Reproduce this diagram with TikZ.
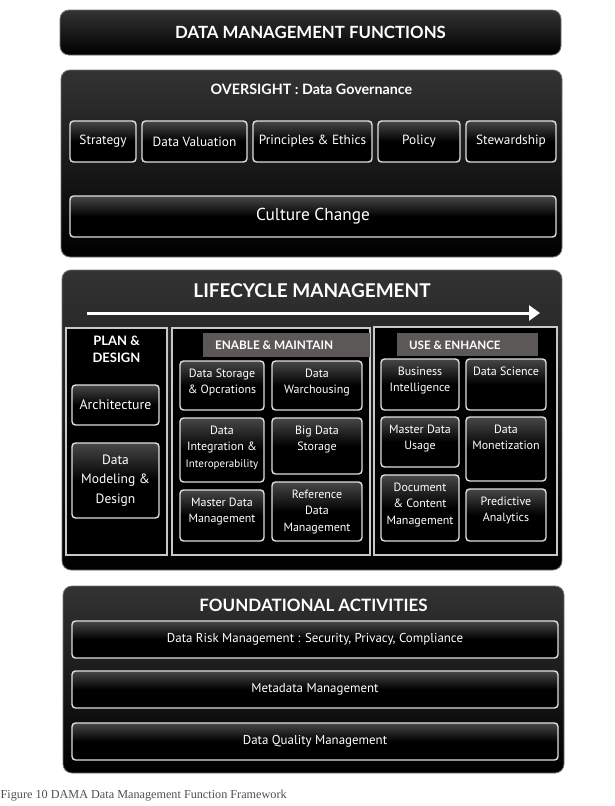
\documentclass[tikz,border=0pt]{standalone}
\usepackage{fontspec}
\setmainfont{PT Sans}
\newfontfamily\headfont{Lato}
\newfontfamily\capfont{Liberation Serif}
\usetikzlibrary{arrows.meta}
\definecolor{bandgrey}{RGB}{92,88,88}
\definecolor{edgegrey}{RGB}{200,200,200}
\definecolor{capgrey}{RGB}{80,80,80}

\tikzset{
  panel/.style={rounded corners=9pt, top color=black!80, bottom color=black,
    draw=black!55, line width=0.8pt},
  ib/.style={rounded corners=3.5pt, top color=black!72, bottom color=black,
    middle color=black, draw=white!88!black, line width=1.4pt, inner sep=0pt},
  col/.style={draw=edgegrey, line width=1.2pt, fill=black, inner sep=0pt},
  band/.style={fill=bandgrey, draw=none, inner sep=0pt},
  ttl/.style={text=white, font=\headfont\bfseries},
  lctext/.style={text=white, align=center, font=\fontsize{12}{16.5}\selectfont, inner sep=2pt},
  flow/.style={draw=white, line width=3pt, -{Triangle[length=11pt,width=15pt]}},
}

% box of the lifecycle grid: name, centre x, centre y, width, height, text
\newcommand\lcbox[6]{%
  \node[ib, minimum width=#4pt, minimum height=#5pt] (#1) at (#2,#3) {};
  \node[lctext, anchor=north] (#1-t) at ([yshift=-6pt]#1.north) {#6};
}

\begin{document}
\begin{tikzpicture}[x=1pt,y=-1pt]
\fill[white] (0,0) rectangle (615,806);
\useasboundingbox (0,0) rectangle (615,806);

% header
\node[panel, minimum width=501pt, minimum height=45pt] (head) at (310.5,32.5) {};
\node[ttl, font=\headfont\bfseries\fontsize{16.8}{18}\selectfont] (head-t) at (head.center) {DATA MANAGEMENT FUNCTIONS};

% oversight
\node[panel, minimum width=501pt, minimum height=187pt] (over) at (311.5,163.5) {};
\node[ttl, font=\headfont\bfseries\fontsize{14.3}{16}\selectfont] (over-t) at (311.5,89) {OVERSIGHT : Data Governance};
\begin{scope}[every node/.append style={text=white, font=\fontsize{13.3}{15}\selectfont}]
\node[ib, minimum width=66pt, minimum height=41pt] (strat) at (103,141.5) {Strategy};
\node[ib, minimum width=105pt, minimum height=41pt] (dval) at (194.5,141.5) {Data Valuation};
\node[ib, minimum width=119pt, minimum height=41pt] (princ) at (312.5,141.5) {Principles \& Ethics};
\node[ib, minimum width=82pt, minimum height=41pt] (pol) at (419,141.5) {Policy};
\node[ib, minimum width=90pt, minimum height=41pt] (stew) at (511,141.5) {Stewardship};
\node[ib, minimum width=486pt, minimum height=41pt, font=\fontsize{17.3}{19}\selectfont] (cult) at (313,216.5) {Culture Change};
\end{scope}

% lifecycle management
\node[panel, minimum width=500pt, minimum height=300pt] (life) at (312,420) {};
\node[ttl, font=\headfont\bfseries\fontsize{19}{22}\selectfont] (life-t) at (312,291) {LIFECYCLE MANAGEMENT};
\coordinate (arrS) at (87,313);
\coordinate (arrE) at (540,313);
\draw[flow] (arrS) -- (arrE);

% plan & design
\node[col, minimum width=101pt, minimum height=227pt] (plan) at (116.5,441.5) {};
\node[ttl, align=center, font=\headfont\bfseries\fontsize{13}{17}\selectfont] (plan-t) at (116.5,349.5) {PLAN \&\\DESIGN};
\node[ib, minimum width=87pt, minimum height=40pt, text=white, font=\fontsize{13.8}{15}\selectfont] (arch) at (115.5,405) {Architecture};
\node[ib, minimum width=87pt, minimum height=75pt, text=white, align=center, font=\fontsize{13.5}{19.5}\selectfont] (dmd) at (115.5,480.5) {Data\\Modeling \&\\Design};

% enable & maintain
\node[col, minimum width=198pt, minimum height=227pt] (enab) at (271,441.5) {};
\node[band, minimum width=167pt, minimum height=24pt] (enab-b) at (286.5,345) {};
\node[ttl, anchor=west, font=\headfont\bfseries\fontsize{11.8}{14}\selectfont] (enab-t) at (211.5,345.5) {ENABLE \& MAINTAIN};
\lcbox{dso}{222}{385.5}{84}{49}{Data Storage\\\& Opcrations}
\lcbox{dwh}{317}{385.5}{90}{49}{Data\\Warchousing}
\lcbox{dii}{222}{450}{84}{64}{Data\\Integration \&\\{\fontsize{11}{14}\selectfont Interoperability}}
\lcbox{bds}{317}{446}{90}{56}{Big Data\\Storage}
\lcbox{mdm}{222}{515.5}{84}{51}{Master Data\\Management}
\lcbox{rdm}{317}{511.5}{90}{59}{Reference\\Data\\Management}

% use & enhance
\node[col, minimum width=183pt, minimum height=228pt] (use) at (465.5,441) {};
\node[band, minimum width=141pt, minimum height=23pt] (use-b) at (467.5,344.5) {};
\node[ttl, anchor=west, font=\headfont\bfseries\fontsize{11.6}{14}\selectfont] (use-t) at (405.5,345) {USE \& ENHANCE};
\lcbox{bi}{420}{384.5}{78}{51}{Business\\Intelligence}
\lcbox{dsc}{506}{384.5}{80}{51}{Data Science}
\lcbox{mdu}{420}{442}{78}{50}{Master Data\\Usage}
\lcbox{dmo}{506}{449}{80}{64}{Data\\Monetization}
\lcbox{dcm}{420}{508}{78}{66}{Document\\\& Content\\Management}
\lcbox{pa}{506}{515}{80}{52}{Predictive\\Analytics}

% foundational activities
\node[panel, minimum width=501pt, minimum height=187pt] (found) at (313.5,679.5) {};
\node[ttl, font=\headfont\bfseries\fontsize{17}{20}\selectfont] (found-t) at (313.5,605) {FOUNDATIONAL ACTIVITIES};
\begin{scope}[every node/.append style={text=white, font=\fontsize{12.9}{15}\selectfont}]
\node[ib, minimum width=486pt, minimum height=37pt] (risk) at (315,639.5) {Data Risk Management : Security, Privacy, Compliance};
\node[ib, minimum width=486pt, minimum height=37pt] (meta) at (315,689.5) {Metadata Management};
\node[ib, minimum width=486pt, minimum height=37pt] (qual) at (315,741.5) {Data Quality Management};
\end{scope}

% caption
\node[anchor=base west, inner sep=0pt, text=capgrey, font=\capfont\fontsize{12.2}{14}\selectfont] (cap) at (0.5,798) {Figure 10 DAMA Data Management Function Framework};
\end{tikzpicture}
\end{document}
